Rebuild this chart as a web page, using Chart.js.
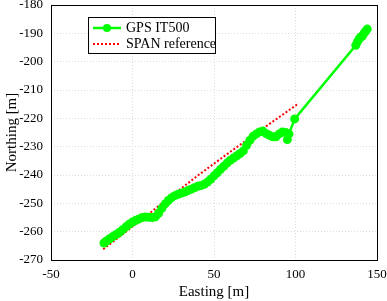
<!DOCTYPE html>
<html>
<head>
<meta charset="utf-8">
<style>
  html, body { margin: 0; padding: 0; background: #fff; }
  #wrap { width: 387px; height: 301px; }
</style>
</head>
<body>
<div id="wrap"><canvas id="plot" width="387" height="301"></canvas></div>
<script src="https://cdn.jsdelivr.net/npm/chart.js"></script>
<script>
// GPS IT500 track (easting, northing)
const gpsEast = [-17.5, -16, -14, -12, -10, -8, -6, -4, -2, 0, 2, 4, 6, 8, 10, 12, 14, 16, 18, 20,
  22, 24, 26, 28, 30, 32, 34, 36, 38, 40, 42, 44, 46, 48, 50, 52, 54, 56, 58, 60,
  62, 64, 66, 68, 70, 72, 74, 76, 78, 80, 82, 84, 86, 88, 90, 92, 94, 95, 96, 99.5,
  137, 138, 139, 140, 141, 142, 143, 144];
const gpsNorth = [-264.0, -263.3, -262.5, -261.7, -261.0, -260.2, -259.3, -258.3, -257.4, -256.6, -256.0, -255.5, -255.0, -254.8, -254.9, -255.0, -254.8, -253.5, -251.8, -250.2,
  -249.0, -248.0, -247.3, -246.8, -246.4, -246.0, -245.5, -245.0, -244.5, -244.0, -243.7, -243.3, -242.5, -241.5, -240.3, -239.2, -238.0, -236.9, -235.8, -234.8,
  -234.0, -233.2, -232.4, -231.5, -229.5, -227.8, -226.3, -225.5, -224.8, -224.5, -225.4, -226.0, -226.5, -226.5, -225.5, -224.8, -225.0, -227.5, -225.5, -220.2,
  -194.2, -193.0, -192.0, -191.3, -191.0, -190.0, -189.2, -188.5];

// SPAN reference trajectory
const spanEast = [-18, 0, 20, 40, 60, 80, 102];
const spanNorth = [-266.2, -258.2, -249.2, -240.2, -231.8, -223.6, -214.7];

const xTicks = [-50, 0, 50, 100, 150];
const yTicks = [-270, -260, -250, -240, -230, -220, -210, -200, -190, -180];

const serif = '"Liberation Serif", "Times New Roman", serif';

function pts(xs, ys) {
  return xs.map((x, i) => ({ x: x, y: ys[i] }));
}

// box round the plot plus the legend, MATLAB style
const frame = {
  id: 'frame',
  afterDraw(chart) {
    const c = chart.ctx, a = chart.chartArea;
    c.save();
    c.strokeStyle = '#000';
    c.lineWidth = 1;
    c.strokeRect(a.left + 0.5, a.top + 0.5, a.right - a.left, a.bottom - a.top);

    const lx = 88, ly = 17, lw = 127, lh = 36;
    c.fillStyle = '#fff';
    c.fillRect(lx, ly, lw, lh);
    c.strokeRect(lx + 0.5, ly + 0.5, lw, lh);
    const ds = chart.data.datasets;
    // entry 1
    c.strokeStyle = ds[0].borderColor;
    c.lineWidth = 2.5;
    c.beginPath(); c.moveTo(93, 28); c.lineTo(121, 28); c.stroke();
    c.fillStyle = ds[0].borderColor;
    c.beginPath(); c.arc(107, 28, 4, 0, Math.PI * 2); c.fill();
    // entry 2
    c.strokeStyle = ds[1].borderColor;
    c.lineWidth = 2;
    c.setLineDash([2, 2]);
    c.beginPath(); c.moveTo(93, 44); c.lineTo(121, 44); c.stroke();
    c.setLineDash([]);
    c.fillStyle = '#000';
    c.font = '14px ' + serif;
    c.textBaseline = 'middle';
    c.fillText(ds[0].label, 126, 28);
    c.fillText(ds[1].label, 126, 44);
    c.restore();
  }
};

new Chart(document.getElementById('plot'), {
  type: 'scatter',
  data: {
    datasets: [{
      label: 'GPS IT500',
      data: pts(gpsEast, gpsNorth),
      showLine: true,
      borderColor: '#00ff00',
      backgroundColor: '#00ff00',
      borderWidth: 2.5,
      pointRadius: 4.5,
      pointBorderWidth: 0,
      tension: 0
    }, {
      label: 'SPAN reference',
      data: pts(spanEast, spanNorth),
      showLine: true,
      borderColor: '#ff0000',
      backgroundColor: '#ff0000',
      borderWidth: 2,
      borderDash: [2, 2],
      pointRadius: 0,
      tension: 0
    }]
  },
  options: {
    responsive: false,
    animation: false,
    layout: { padding: { left: 0, right: 10, top: 5, bottom: 0 } },
    plugins: { legend: { display: false }, tooltip: { enabled: false } },
    scales: {
      x: {
        min: -50, max: 150,
        afterBuildTicks(s) { s.ticks = xTicks.map(v => ({ value: v })); },
        afterFit(s) { s.height = 41; s.paddingLeft = 0; s.paddingRight = 0; },
        grid: { color: '#dcdcdc', tickLength: 0, drawTicks: false },
        border: { display: false, dash: [1, 2] },
        ticks: { color: '#000', font: { family: serif, size: 13 }, padding: 7, maxRotation: 0 },
        title: { display: true, text: 'Easting [m]', color: '#000', font: { family: serif, size: 15 }, padding: { top: 0, bottom: 0 } }
      },
      y: {
        min: -270, max: -180,
        afterBuildTicks(s) { s.ticks = yTicks.map(v => ({ value: v })); },
        afterFit(s) { s.width = 51; s.paddingTop = 0; s.paddingBottom = 0; },
        grid: { color: '#dcdcdc', tickLength: 0, drawTicks: false },
        border: { display: false, dash: [1, 2] },
        ticks: { color: '#000', font: { family: serif, size: 13 }, padding: 8 },
        title: { display: true, text: 'Northing [m]', color: '#000', font: { family: serif, size: 15 }, padding: { top: 3, bottom: 0 } }
      }
    }
  },
  plugins: [frame]
});
</script>
</body>
</html>
